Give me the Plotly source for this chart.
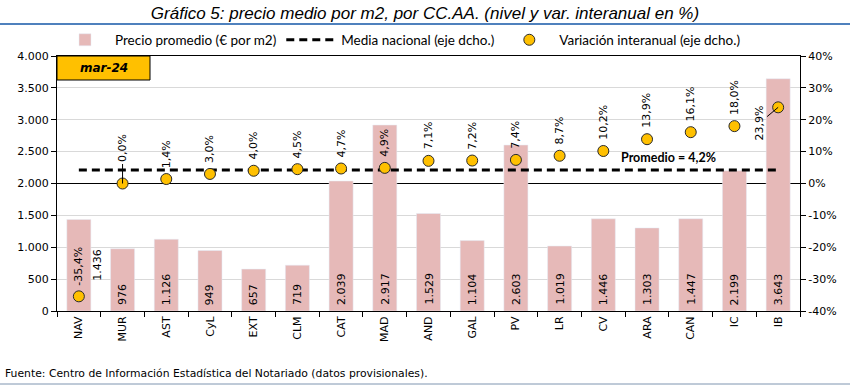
import plotly.graph_objects as go

categories = ["NAV", "MUR", "AST", "CyL", "EXT", "CLM", "CAT", "MAD", "AND",
              "GAL", "PV", "LR", "CV", "ARA", "CAN", "IC", "IB"]
prices = [1436, 976, 1126, 949, 657, 719, 2039, 2917, 1529, 1104, 2603,
          1019, 1446, 1303, 1447, 2199, 3643]
variation = [-35.4, 0.0, 1.4, 3.0, 4.0, 4.5, 4.7, 4.9, 7.1, 7.2, 7.4, 8.7,
             10.2, 13.9, 16.1, 18.0, 23.9]
national_mean = 4.2
left_ticks = [0, 500, 1000, 1500, 2000, 2500, 3000, 3500, 4000]
right_ticks = [-40, -30, -20, -10, 0, 10, 20, 30, 40]
right_ticktext = ["-40%", "-30%", "-20%", "-10%", "0%", "10%", "20%", "30%", "40%"]
period = "mar-24"

W, H = 850, 386
L, R, T, B = 57, 50, 56, 75
PW, PH = W - L - R, H - T - B

def fmt_int(v):
    return f"{v:,}".replace(",", ".")

def fmt_pct(v):
    return f"{v:.1f}".replace(".", ",") + "%"

TICKFONT = dict(family="DejaVu Sans", size=11, color="black")
LEGFONT = dict(family="Lato", size=13.5, color="black")

fig = go.Figure()
fig.add_trace(go.Bar(
    x=categories, y=prices, name="Precio promedio (€ por m2)",
    marker=dict(color="#E6B9B8"), yaxis="y", hoverinfo="skip"))
fig.add_trace(go.Scatter(
    x=[categories[0], categories[-1]], y=[national_mean, national_mean],
    mode="lines", name="Media nacional (eje dcho.)", yaxis="y2",
    line=dict(color="black", width=3, dash="8px,5px")))
fig.add_trace(go.Scatter(
    x=categories, y=variation, mode="markers",
    name="Variación interanual (eje dcho.)", yaxis="y2",
    marker=dict(color="#FFC000", size=11, line=dict(color="#2a2a2a", width=1))))

ann = []
# bar value labels
for i, (c, p) in enumerate(zip(categories, prices)):
    xs, ys = 0, 4
    if i == 0:
        xs, ys = 18, 28
    ann.append(dict(x=c, y=0, xref="x", yref="y", text=fmt_int(p),
                    textangle=-90, showarrow=False, xanchor="center",
                    yanchor="bottom", xshift=xs, yshift=ys, font=TICKFONT))
# variation labels
n = len(categories)
for i, (c, v) in enumerate(zip(categories, variation)):
    if i == 1:
        ann.append(dict(x=c, y=v, xref="x", yref="y2", text=fmt_pct(v),
                        textangle=-90, showarrow=True, arrowhead=0,
                        arrowwidth=1, arrowcolor="black", ax=0, ay=-35,
                        standoff=0, font=TICKFONT))
    elif i == n - 1:
        ann.append(dict(x=c, y=v, xref="x", yref="y2", text=fmt_pct(v),
                        textangle=-90, showarrow=True, arrowhead=0,
                        arrowwidth=1, arrowcolor="black", ax=-19, ay=16,
                        standoff=0, font=TICKFONT))
    else:
        ann.append(dict(x=c, y=v, xref="x", yref="y2", text=fmt_pct(v),
                        textangle=-90, showarrow=False, xanchor="center",
                        yanchor="bottom", yshift=9, font=TICKFONT))

ann.append(dict(x=categories[-3], y=national_mean, xref="x", yref="y2",
                text="<b>Promedio = " + fmt_pct(national_mean) + "</b>",
                showarrow=False, xanchor="center", yanchor="bottom", xshift=-22,
                yshift=3, font=dict(family="Lato", size=12.5, color="black")))
# period box text
box_w = 93 / PW
box_h = 24 / PH
ann.append(dict(x=box_w / 2, y=1 - box_h / 2, xref="paper", yref="paper",
                xanchor="center", yanchor="middle",
                text="<b><i>" + period + "</i></b>", showarrow=False,
                font=dict(family="DejaVu Sans", size=12, color="black")))
# source
ann.append(dict(x=(3 - L) / PW, y=-(373 - T - PH) / PH, xref="paper", yref="paper",
                xanchor="left", yanchor="middle", showarrow=False,
                text="Fuente: Centro de Información Estadística del Notariado (datos provisionales).",
                font=dict(family="DejaVu Sans", size=10.8, color="black")))

shapes = [
    dict(type="rect", xref="paper", yref="paper", x0=0, x1=box_w, y0=1 - box_h, y1=1,
         fillcolor="#FFC000", line=dict(color="black", width=1), layer="below"),
    dict(type="line", xref="paper", yref="paper", x0=-L / PW, x1=(W - L) / PW,
         y0=1 + (T - 24) / PH, y1=1 + (T - 24) / PH, line=dict(color="#4F81BD", width=2)),
    dict(type="line", xref="paper", yref="paper", x0=-L / PW, x1=(W - L) / PW,
         y0=-(384 - T - PH) / PH, y1=-(384 - T - PH) / PH,
         line=dict(color="#7F95B0", width=1)),
]

fig.update_layout(
    width=W, height=H, margin=dict(l=L, r=R, t=T, b=B, autoexpand=False),
    paper_bgcolor="white", plot_bgcolor="white",
    separators=",.",
    bargap=0.45,
    title=dict(text="<i>Gráfico 5: precio medio por m2, por CC.AA. (nivel y var. interanual en %)</i>",
               x=0.5, xanchor="center", y=1 - 13 / H, yanchor="middle",
               font=dict(family="Liberation Sans", size=17, color="black")),
    legend=dict(orientation="h", x=(55 - L) / PW, xanchor="left",
                y=1 + (T - 40) / PH, yanchor="middle", font=LEGFONT,
                bgcolor="rgba(0,0,0,0)", itemwidth=50, traceorder="normal"),
    xaxis=dict(type="category", tickangle=-90, tickfont=TICKFONT, automargin=False,
               showline=True, linecolor="black", linewidth=1, mirror=True,
               ticks="outside", ticklen=5, tickcolor="black", tickson="boundaries",
               showgrid=False, range=[-0.5, n - 0.5]),
    yaxis=dict(range=[0, 4000], tickvals=left_ticks, automargin=False,
               ticktext=[fmt_int(t) for t in left_ticks], tickfont=TICKFONT,
               showline=True, linecolor="black", linewidth=1,
               ticks="outside", ticklen=5, tickcolor="black",
               showgrid=True, gridcolor="#D9D9D9", gridwidth=1, zeroline=False),
    yaxis2=dict(range=[-40, 40], tickvals=right_ticks, ticktext=right_ticktext,
                overlaying="y", side="right", tickfont=TICKFONT, automargin=False,
                showline=True, linecolor="black", linewidth=1,
                ticks="outside", ticklen=5, tickcolor="black",
                showgrid=False, zeroline=True, zerolinecolor="black", zerolinewidth=1),
    annotations=ann, shapes=shapes, showlegend=True,
)

fig.write_html("out.html", config={"displayModeBar": False},
               post_script="document.body.style.margin='0px';")
